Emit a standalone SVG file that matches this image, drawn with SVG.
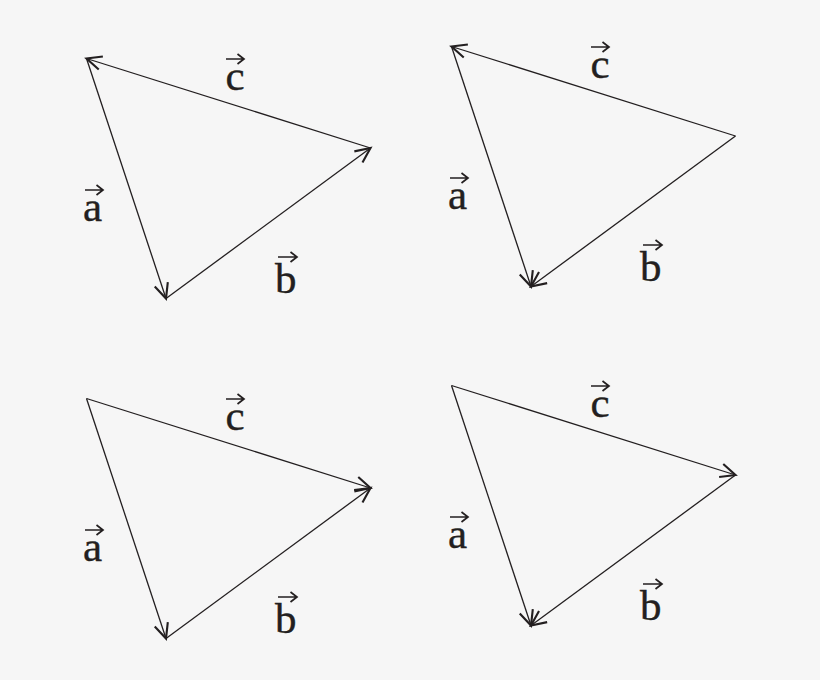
<svg xmlns="http://www.w3.org/2000/svg" width="820" height="680" viewBox="0 0 820 680">
<style>
.edge{stroke:#231f20;stroke-width:1.3;fill:none}
.lbl{font-family:"Liberation Serif","Times New Roman",serif;font-size:43px;fill:#231f20;stroke:#231f20;stroke-width:0.4}
.vec{stroke:#231f20;stroke-width:1.7;fill:none}
</style>
<defs>
<marker id="ah" markerUnits="userSpaceOnUse" markerWidth="20" markerHeight="20" refX="0" refY="0" viewBox="-14 -8 16 16" orient="auto" overflow="visible">
<path d="M-12,-5.5 L0,0 L-12,5.5" fill="none" stroke="#231f20" stroke-width="1.7"/>
</marker>
<g id="labels">
<text class="lbl" x="83" y="221">a</text>
<path class="vec" d="M85,190 H103 M96.5,185 L103,190 L96.5,195"/>
<text class="lbl" x="275" y="293">b</text>
<path class="vec" d="M278,257 H297 M290.5,252 L297,257 L290.5,262"/>
<text class="lbl" x="225.5" y="90">c</text>
<path class="vec" d="M226,59 H244 M237.5,54 L244,59 L237.5,64"/>
</g>
</defs>
<rect width="820" height="680" fill="#f6f6f6"/>
<g id="connectors">
<g id="conn-1">
<line class="edge" x1="86.5" y1="58.5" x2="166" y2="298.5" marker-end="url(#ah)"/>
<line class="edge" x1="166" y1="298.5" x2="370.5" y2="148" marker-end="url(#ah)"/>
<line class="edge" x1="370.5" y1="148" x2="86.5" y2="58.5" marker-end="url(#ah)"/>
</g>
<g id="conn-2" transform="translate(365,-12)">
<line class="edge" x1="86.5" y1="58.5" x2="166" y2="298.5" marker-end="url(#ah)"/>
<line class="edge" x1="370.5" y1="148" x2="166" y2="298.5" marker-end="url(#ah)"/>
<line class="edge" x1="370.5" y1="148" x2="86.5" y2="58.5" marker-end="url(#ah)"/>
</g>
<g id="conn-3" transform="translate(0,340)">
<line class="edge" x1="86.5" y1="58.5" x2="166" y2="298.5" marker-end="url(#ah)"/>
<line class="edge" x1="166" y1="298.5" x2="370.5" y2="148" marker-end="url(#ah)"/>
<line class="edge" x1="86.5" y1="58.5" x2="370.5" y2="148" marker-end="url(#ah)"/>
</g>
<g id="conn-4" transform="translate(365,327)">
<line class="edge" x1="86.5" y1="58.5" x2="166" y2="298.5" marker-end="url(#ah)"/>
<line class="edge" x1="370.5" y1="148" x2="166" y2="298.5" marker-end="url(#ah)"/>
<line class="edge" x1="86.5" y1="58.5" x2="370.5" y2="148" marker-end="url(#ah)"/>
</g>
</g>
<g id="triangle-1"><use href="#labels"/></g>
<g id="triangle-2" transform="translate(365,-12)"><use href="#labels"/></g>
<g id="triangle-3" transform="translate(0,340)"><use href="#labels"/></g>
<g id="triangle-4" transform="translate(365,327)"><use href="#labels"/></g>
</svg>
